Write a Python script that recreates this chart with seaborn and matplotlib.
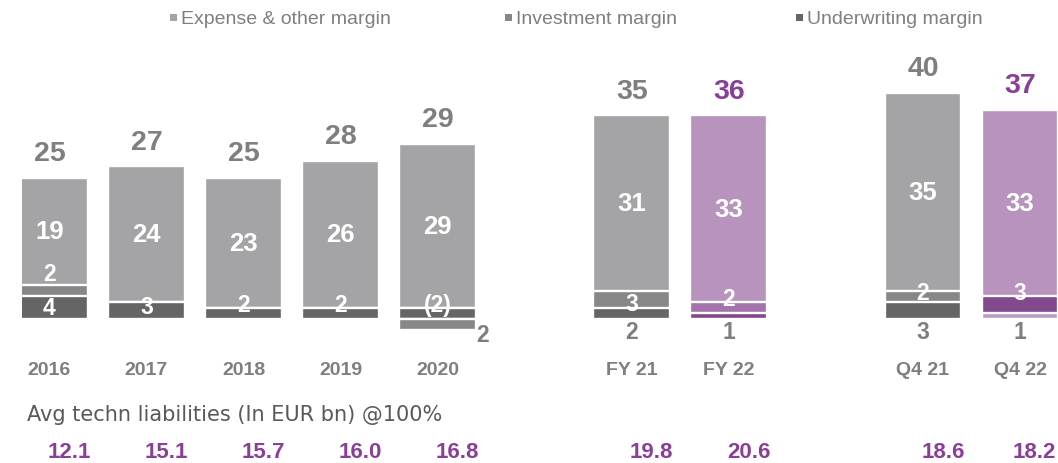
import numpy as np
import pandas as pd
import matplotlib
matplotlib.use("Agg")
import matplotlib.pyplot as plt
import matplotlib.transforms as mtransforms
from matplotlib.patches import Rectangle
import seaborn as sns

# ---- data -------------------------------------------------------------
periods = ["2016", "2017", "2018", "2019", "2020", "FY 21", "FY 22", "Q4 21", "Q4 22"]
expense_margin = [19, 24, 23, 26, 29, 31, 33, 35, 33]
investment_margin = [2, 0, 0, 0, -2, 3, 2, 2, 3]
underwriting_margin = [4, 3, 2, 2, 2, 2, 1, 3, 1]
total_margin = [25, 27, 25, 28, 29, 35, 36, 40, 37]
avg_liabilities = [12.1, 15.1, 15.7, 16.0, 16.8, 19.8, 20.6, 18.6, 18.2]
legend_labels = ["Expense & other margin", "Investment margin", "Underwriting margin"]
footer_label = "Avg techn liabilities (In EUR bn) @100%"

# ---- layout / style ---------------------------------------------------
slots = [0, 1, 2, 3, 4, 6, 7, 9, 10]          # gaps separate the three blocks
highlight = [False] * 5 + [False, True, False, True]

GRAY_EXP, GRAY_INV, GRAY_UW = "#A4A4A6", "#878787", "#656565"
PUR_EXP, PUR_INV, PUR_UW = "#BC8CC5", "#A86BB4", "#8B3E98"
TXT_GRAY = "#7F7F7F"
TXT_PURPLE = "#8B3E98"

top_colors = [PUR_EXP if h else GRAY_EXP for h in highlight]
mid_colors = [PUR_INV if h else GRAY_INV for h in highlight]
low_colors = [PUR_UW if h else GRAY_UW for h in highlight]
# last bar: thin bottom layer is light, middle layer dark
mid_colors[-1] = PUR_UW
low_colors[-1] = "#C394CB"

# label nudges (data units) and placement of the bottom-layer labels
inv_nudge = [3.0, 0, 0, 0, 3.5, -0.7, 1.7, 0.6, 2.1]
uw_nudge = [0, 0.7, 1.65, 1.65, 0, 0, 0, 0, 0]
uw_place = ["in", "in", "in", "in", "right", "below", "below", "below", "below"]
value_shift = [0.206] * 8 + [0.15]

W_PX, H_PX = 1058, 464
sns.set_theme(style="white")
plt.rcParams["font.family"] = ["Liberation Sans", "DejaVu Sans"]

fig = plt.figure(figsize=(W_PX / 100, H_PX / 100), dpi=100)
ax_left, ax_top, ax_bottom = 22, 40, 355
ax = fig.add_axes([ax_left / W_PX, 1 - ax_bottom / H_PX,
                   1 - ax_left / W_PX, (ax_bottom - ax_top) / H_PX])

df = pd.DataFrame({
    "period": periods,
    "slot": slots,
    "exp": expense_margin,
    "inv": investment_margin,
    "uw": underwriting_margin,
})
df["low"] = df["uw"]
df["mid"] = df["uw"] + df["inv"].clip(lower=0)
df["top"] = df["mid"] + df["exp"]

bar_kw = dict(x="slot", hue="period", hue_order=periods, native_scale=True,
              dodge=False, width=0.79, legend=False, errorbar=None,
              edgecolor="white", linewidth=1.7, ax=ax)

# overlapping layers give the stacked look: full stack, then lower parts
sns.barplot(data=df, y="top", palette=dict(zip(periods, top_colors)), **bar_kw)
sns.barplot(data=df, y="mid", palette=dict(zip(periods, mid_colors)), **bar_kw)
sns.barplot(data=df, y="low", palette=dict(zip(periods, low_colors)), **bar_kw)
neg = df[df["inv"] < 0]
sns.barplot(data=neg, y="inv", palette=dict(zip(periods, mid_colors)), **bar_kw)


def fmt(v):
    return f"({abs(v)})" if v < 0 else f"{v}"


BIG, SMALL = 18.5, 16.5
for i, row in df.iterrows():
    s = row["slot"]
    # total above the stack
    ax.annotate(str(total_margin[i]), (s, row["top"]), xytext=(0, 12.5),
                textcoords="offset points", ha="center", va="baseline",
                fontsize=20.5, fontweight="bold",
                color=TXT_PURPLE if highlight[i] else TXT_GRAY)
    # expense segment
    ax.text(s, row["mid"] + row["exp"] / 2, fmt(row["exp"]), ha="center",
            va="center", fontsize=BIG, fontweight="bold", color="white")
    # investment segment
    inv = row["inv"]
    if inv != 0:
        y = (row["uw"] + inv / 2 if inv > 0 else inv / 2) + inv_nudge[i]
        ax.text(s, y, fmt(inv), ha="center", va="center", fontsize=SMALL,
                fontweight="bold", color="white")
    # underwriting segment
    uw = row["uw"]
    place = uw_place[i]
    if place == "in":
        ax.text(s, uw / 2 + uw_nudge[i], fmt(uw), ha="center", va="center",
                fontsize=SMALL, fontweight="bold", color="white")
    elif place == "below":
        ax.text(s, -2.2, fmt(uw), ha="center", va="center", fontsize=SMALL,
                fontweight="bold", color=TXT_GRAY)
    else:
        ax.text(s + 0.46, -2.75, fmt(uw), ha="center", va="center",
                fontsize=SMALL, fontweight="bold", color=TXT_GRAY)

# axes cosmetics
px_per_slot = 97.06
x0 = (ax_left - 49.4) / px_per_slot
x1 = (W_PX - 49.4) / px_per_slot
ax.set_xlim(x0, x1)
px_per_unit = 5.655
ax.set_ylim(-(ax_bottom - 320) / px_per_unit, (320 - ax_top) / px_per_unit)
ax.set_xticks(slots)
ax.set_xticklabels(periods, fontsize=14, fontweight="bold", color=TXT_GRAY)
ax.tick_params(axis="x", length=0, pad=5)
ax.set_yticks([])
ax.set_xlabel("")
ax.set_ylabel("")
for sp in ax.spines.values():
    sp.set_visible(False)

# legend across the top
legend_cols = [GRAY_EXP, GRAY_INV, GRAY_UW]
legend_x = [170, 505, 796]
for c, lx, lab in zip(legend_cols, legend_x, legend_labels):
    fig.add_artist(Rectangle((lx / W_PX, 1 - 22 / H_PX), 7 / W_PX, 7 / H_PX,
                             transform=fig.transFigure, color=c, lw=0))
    fig.text((lx + 11) / W_PX, 1 - 19 / H_PX, lab, ha="left", va="center",
             fontsize=14, color=TXT_GRAY)

# liabilities row
fig.text(27 / W_PX, 1 - 421 / H_PX, footer_label, ha="left", va="baseline",
         fontsize=15, color="#595959", family=["DejaVu Sans"])
trans = mtransforms.blended_transform_factory(ax.transData, fig.transFigure)
for s, v, dx in zip(slots, avg_liabilities, value_shift):
    ax.text(s + dx, 6 / H_PX, f"{v:.1f}", transform=trans, ha="center",
            va="baseline", fontsize=16, fontweight="bold", color=TXT_PURPLE,
            clip_on=False)

fig.savefig("out.png", dpi=100)
